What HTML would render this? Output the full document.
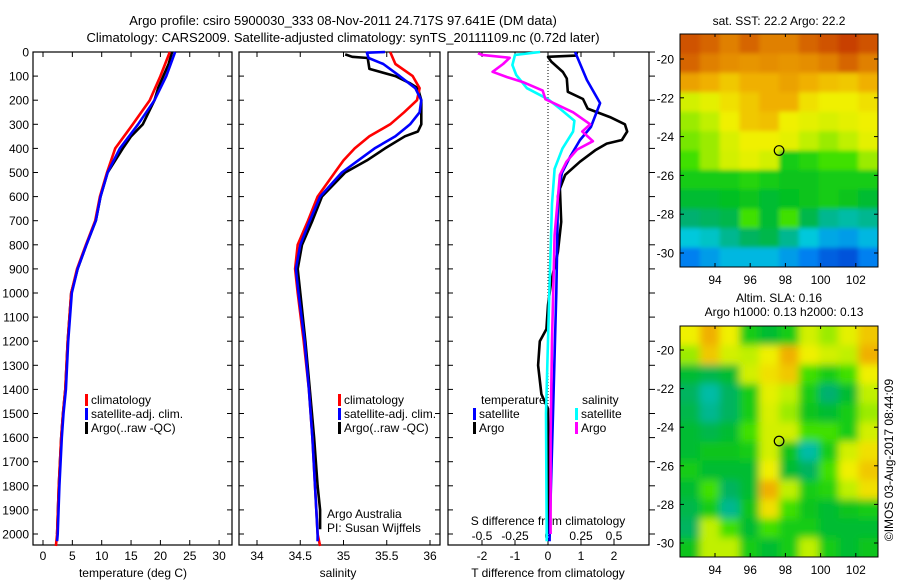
<!DOCTYPE html>
<html><head><meta charset="utf-8"><style>
body{margin:0;background:#fff}
svg{display:block;font-family:"Liberation Sans",sans-serif}
</style></head><body>
<svg id="s" width="900" height="580" viewBox="0 0 900 580">
<defs>
<clipPath id="c1"><rect x="680" y="34" width="198" height="233"/></clipPath>
<clipPath id="c2"><rect x="680" y="326" width="198" height="231"/></clipPath>
<filter id="b1" x="-5%" y="-5%" width="110%" height="110%"><feGaussianBlur stdDeviation="2"/></filter>
<filter id="b2" x="-5%" y="-5%" width="110%" height="110%"><feGaussianBlur stdDeviation="4"/></filter>
</defs>
<text x="343" y="25" font-size="13" text-anchor="middle">Argo profile: csiro 5900030_333 08-Nov-2011 24.717S 97.641E (DM data)</text>
<text x="343" y="42" font-size="13" text-anchor="middle">Climatology: CARS2009. Satellite-adjusted climatology: synTS_20111109.nc (0.72d later)</text>
<g id="g"></g>
</svg>
<script>
// ---------- data ----------
const depthTicks=[0,100,200,300,400,500,600,700,800,900,1000,1100,1200,1300,1400,1500,1600,1700,1800,1900,2000];
const tempTicks=[0,5,10,15,20,25,30];
const salTicks=[34,34.5,35,35.5,36];
const tdTicks=[-2,-1,0,1,2];
const sdTicks=[-0.5,-0.25,0,0.25,0.5];
const sdTickLabels=["-0.5","-0.25","0","0.25","0.5"];
const tempClim=[[0,21.6],[100,20],[200,18.2],[300,15.3],[400,12.3],[500,10.9],[600,9.7],[700,8.9],[800,7.3],[900,5.8],[1000,4.8],[1200,4.2],[1400,3.8],[1500,3.4],[1600,3.1],[1800,2.7],[2000,2.4],[2050,2.2]];
const tempSat=[[0,22.5],[100,21],[200,19],[300,16.2],[400,13.1],[500,11],[600,9.8],[700,9],[800,7.4],[900,5.9],[1000,4.9],[1200,4.3],[1400,3.9],[1500,3.5],[1600,3.2],[1800,2.8],[2000,2.5],[2030,2.4]];
const tempArgo=[[0,22],[50,21.4],[100,20.5],[150,19.6],[200,19],[300,17],[350,15],[400,13.6],[500,11],[600,9.8],[700,9],[800,7.4],[900,5.9],[1000,4.8],[1200,4.2],[1400,3.8],[1500,3.4],[1600,3.1],[1800,2.7],[2000,2.4]];
const salClim=[[0,35.54],[50,35.6],[100,35.8],[150,35.88],[200,35.85],[250,35.7],[300,35.54],[350,35.3],[400,35.13],[450,35.0],[500,34.9],[600,34.7],[700,34.59],[800,34.47],[900,34.44],[1000,34.47],[1200,34.54],[1400,34.6],[1600,34.64],[1800,34.67],[2000,34.7],[2050,34.73]];
const salSat=[[0,35.48],[3,35.27],[25,35.29],[50,35.46],[100,35.65],[150,35.83],[200,35.9],[250,35.88],[300,35.77],[350,35.6],[400,35.36],[450,35.17],[500,34.98],[600,34.73],[700,34.61],[800,34.5],[900,34.45],[1000,34.48],[1200,34.55],[1400,34.6],[1600,34.64],[1800,34.67],[2000,34.7],[2030,34.7]];
const salArgo=[[10,35.02],[20,35.1],[25,35.28],[70,35.3],[100,35.6],[130,35.77],[150,35.86],[200,35.9],[300,35.9],[330,35.86],[350,35.71],[400,35.48],[450,35.27],[500,35.02],[600,34.75],[700,34.64],[800,34.52],[900,34.47],[1000,34.5],[1200,34.56],[1400,34.61],[1600,34.66],[1800,34.7],[1900,34.73],[1980,34.73]];
const tdSat=[[0,0.82],[116,1.18],[212,1.58],[311,1.3],[365,0.97],[435,0.67],[502,0.42],[600,0.3],[800,0.28],[1000,0.25],[1500,0.15],[2000,0.05],[2030,0.05]];
const tdArgo=[[0,0.88],[15,0.85],[20,0],[40,0.1],[83,0.45],[110,0.57],[165,0.6],[195,1.06],[235,1.2],[270,1.88],[300,2.33],[330,2.4],[365,2.24],[380,1.78],[408,1.43],[455,0.97],[510,0.52],[567,0.36],[705,0.4],[830,0.3],[950,0.1],[1050,0],[1150,-0.05],[1200,-0.25],[1300,-0.3],[1420,-0.2],[1480,0],[1800,0.02],[2000,0.02]];
const sdSat=[[0,-0.06],[12,-0.25],[54,-0.27],[96,-0.24],[150,-0.16],[196,0],[235,0.09],[285,0.2],[330,0.19],[400,0.11],[485,0.05],[630,0.03],[1000,0.01],[1500,-0.015],[2000,-0.01],[2030,-0.01]];
const sdArgo=[[5,-0.53],[12,-0.5],[24,-0.29],[50,-0.34],[82,-0.42],[104,-0.31],[125,-0.19],[160,-0.04],[196,-0.02],[250,0.19],[300,0.32],[330,0.26],[370,0.34],[405,0.22],[455,0.14],[510,0.09],[760,0.05],[1200,0.03],[1600,0.02],[2000,0.02]];
const lonTicks=[94,96,98,100,102];
const latTicks=[-20,-22,-24,-26,-28,-30];
const sstGrid=[
[.9,.88,.85,.88,.85,.85,.88,.9,.92,.9],
[.88,.85,.83,.82,.83,.82,.83,.85,.88,.85],
[.8,.78,.75,.78,.78,.8,.78,.76,.75,.78],
[.65,.68,.72,.75,.78,.78,.72,.7,.7,.72],
[.6,.62,.7,.75,.76,.7,.68,.66,.68,.7],
[.58,.6,.66,.7,.7,.68,.62,.6,.62,.68],
[.55,.6,.65,.68,.65,.5,.52,.55,.55,.6],
[.5,.5,.5,.52,.5,.48,.48,.5,.5,.5],
[.45,.45,.47,.48,.45,.47,.48,.5,.48,.45],
[.38,.4,.42,.55,.45,.55,.42,.35,.33,.35],
[.28,.3,.35,.4,.42,.35,.28,.22,.2,.25],
[.15,.2,.25,.25,.25,.2,.15,.1,.08,.15]];
const slaGrid=[
[.7,.78,.7,.5,.45,.5,.65,.6,.68,.75],
[.6,.75,.65,.62,.7,.78,.7,.65,.62,.78],
[.45,.42,.45,.65,.72,.75,.55,.5,.55,.7],
[.4,.33,.4,.5,.68,.62,.5,.38,.45,.62],
[.42,.35,.4,.5,.66,.6,.48,.45,.5,.6],
[.45,.42,.45,.55,.65,.65,.55,.55,.5,.65],
[.45,.48,.48,.5,.65,.48,.33,.5,.65,.72],
[.5,.45,.45,.45,.7,.45,.4,.55,.7,.75],
[.45,.55,.4,.45,.78,.62,.5,.52,.62,.72],
[.42,.5,.35,.48,.72,.55,.48,.45,.48,.5],
[.4,.62,.55,.45,.55,.5,.5,.45,.45,.45],
[.48,.62,.62,.5,.45,.5,.62,.5,.45,.48]];
const argoLon=97.641, argoLat=-24.717;

const NS="http://www.w3.org/2000/svg";
const G=document.getElementById('g');
function mk(tag,attrs,parent){const e=document.createElementNS(NS,tag);for(const k in attrs)e.setAttribute(k,attrs[k]);(parent||G).appendChild(e);return e;}
function txt(x,y,s,size,anchor,parent){const e=mk('text',{x:x,y:y,'font-size':size||12,'text-anchor':anchor||'start'},parent);e.textContent=s;return e;}
const FS=12;
const yD=d=>52+d*0.241;
const xT=v=>43+v*5.87;
const xS=v=>257+(v-34)*86.5;
const xTD=v=>548+v*33;
const xSD=v=>548+v*132;
function line(data,fx,color,name){
  const pts=data.map(p=>fx(p[1]).toFixed(1)+','+yD(p[0]).toFixed(1)).join(' ');
  const e=mk('polyline',{points:pts,fill:'none',stroke:color,'stroke-width':2.6,'stroke-linejoin':'round'});
  
  
}
const panels=[{x0:33,x1:232,n:'temperature'},{x0:239,x1:440,n:'salinity'},{x0:448,x1:649,n:'difference'}];
const Y0=52,Y1=545;
panels.forEach(p=>{
  const r=mk('rect',{x:p.x0,y:Y0,width:p.x1-p.x0,height:Y1-Y0,fill:'none',stroke:'#000','stroke-width':1.2});
  
  
  depthTicks.forEach(d=>{
    mk('line',{x1:p.x0,x2:p.x0+5,y1:yD(d),y2:yD(d),stroke:'#000'});
    if(p.n!=='difference') mk('line',{x1:p.x1-5,x2:p.x1,y1:yD(d),y2:yD(d),stroke:'#000'});
    else mk('line',{x1:p.x1,x2:p.x1+6,y1:yD(d),y2:yD(d),stroke:'#000'});
  });
});
depthTicks.forEach(d=>{const t=txt(29,yD(d)+4.5,String(d),FS,'end');});
function xticks(ticks,fx,labels,y){ticks.forEach((v,i)=>{
  mk('line',{x1:fx(v),x2:fx(v),y1:Y1,y2:Y1-5,stroke:'#000'});
  mk('line',{x1:fx(v),x2:fx(v),y1:Y0,y2:Y0+5,stroke:'#000'});
  const t=txt(fx(v),y,labels?labels[i]:String(v),FS,'middle');
  
  });}
xticks(tempTicks,xT,null,560);
xticks(salTicks,xS,null,560);
xticks(tdTicks,xTD,null,560);
sdTicks.forEach((v,i)=>{const t=txt(xSD(v),540,sdTickLabels[i],FS,'middle');});
let t;
t=txt(133,577,'temperature (deg C)',FS,'middle');
t=txt(338,577,'salinity',FS,'middle');
t=txt(548,577,'T difference from climatology',FS,'middle');
t=txt(548,525,'S difference from climatology',FS,'middle');
const zl=mk('line',{x1:548,x2:548,y1:Y0,y2:Y1,stroke:'#000','stroke-dasharray':'1,2'});

line(tempArgo,xT,'#000','temp-argo');line(tempClim,xT,'#f00','temp-climatology');line(tempSat,xT,'#00f','temp-satellite');
line(salArgo,xS,'#000','sal-argo');line(salClim,xS,'#f00','sal-climatology');line(salSat,xS,'#00f','sal-satellite');
line(tdArgo,xTD,'#000','tdiff-argo');line(tdSat,xTD,'#00f','tdiff-satellite');
line(sdSat,xSD,'#0ff','sdiff-satellite');line(sdArgo,xSD,'#f0f','sdiff-argo');
function leg(x,y,color,label){mk('rect',{x:x,y:y-10,width:3,height:12,fill:color});const e=txt(x+6,y,label,FS);}
[[85,404],[338,404]].forEach(([x,y])=>{leg(x,y,'#f00','climatology');leg(x,y+14,'#00f','satellite-adj. clim.');leg(x,y+28,'#000','Argo(..raw -QC)');});
t=txt(481,404,'temperature',FS);
t=txt(582,404,'salinity',FS);
leg(473,418,'#00f','satellite');leg(473,432,'#000','Argo');leg(575,418,'#0ff','satellite');leg(575,432,'#f0f','Argo');
t=txt(327,518,'Argo Australia',FS);
t=txt(327,532,'PI: Susan Wijffels',FS);
const stops=[[0.05,[0,64,208]],[0.15,[0,128,240]],[0.28,[0,200,220]],[0.38,[0,176,112]],[0.47,[0,192,32]],[0.55,[64,224,0]],[0.62,[192,240,0]],[0.7,[240,240,0]],[0.78,[240,176,0]],[0.85,[224,128,0]],[0.92,[200,64,0]]];
function cmap(v){if(v<=stops[0][0])return 'rgb('+stops[0][1]+')';for(let i=1;i<stops.length;i++){if(v<=stops[i][0]){const a=stops[i-1],b=stops[i],f=(v-a[0])/(b[0]-a[0]);return 'rgb('+a[1].map((c,k)=>Math.round(c+(b[1][k]-c)*f)).join(',')+')';}}return 'rgb('+stops[stops.length-1][1]+')';}
const MX0=680,MX1=878;
const xLon=l=>715+(l-94)*17.6;
function map(grid,top,bot,latY,clip,filt,name){
  const g=mk('g',{'clip-path':'url(#'+clip+')'});
  
  const gi=mk('g',{filter:'url(#'+filt+')'},g);
  const rows=grid.length,cols=grid[0].length,cw=(MX1-MX0)/cols,ch=(bot-top)/rows;
  grid.forEach((row,r)=>row.forEach((v,c)=>{
    const ex=(c===0?-10:0), ey=(r===0?-10:0), ew=(c===cols-1?10:0), eh=(r===rows-1?10:0);
    mk('rect',{x:MX0+c*cw+ex,y:top+r*ch+ey,width:cw+0.6-ex+ew,height:ch+0.6-ey+eh,fill:cmap(v)},gi);}));
  const f=mk('rect',{x:MX0,y:top,width:MX1-MX0,height:bot-top,fill:'none',stroke:'#000'});
  
  lonTicks.forEach(l=>{mk('line',{x1:xLon(l),x2:xLon(l),y1:bot,y2:bot-4,stroke:'#000'});mk('line',{x1:xLon(l),x2:xLon(l),y1:top,y2:top+3,stroke:'#000'});
    const e=txt(xLon(l),bot+17,String(l),FS,'middle');});
  latTicks.forEach(la=>{const y=latY(la);mk('line',{x1:MX0,x2:MX0+4,y1:y,y2:y,stroke:'#000'});mk('line',{x1:MX1,x2:MX1-4,y1:y,y2:y,stroke:'#000'});
    const e=txt(MX0-6,y+4.5,String(la),FS,'end');});
  const c=mk('circle',{cx:xLon(argoLon),cy:latY(argoLat),r:4.8,fill:'none',stroke:'#000','stroke-width':1.2});
  
}
map(sstGrid,34,267,la=>59+(-20-la)*19.4,'c1','b1','sst-map');
map(slaGrid,326,557,la=>350+(-20-la)*19.3,'c2','b2','sla-map');
t=txt(779,25,'sat. SST: 22.2 Argo: 22.2',FS,'middle');
t=txt(779,302,'Altim. SLA: 0.16',FS,'middle');
t=txt(784,316,'Argo h1000: 0.13 h2000: 0.13',FS,'middle');
t=txt(0,0,'©IMOS 03-Aug-2017 08:44:09',FS,'middle');t.setAttribute('transform','translate(893,460) rotate(-90)');

</script>
</body></html>
